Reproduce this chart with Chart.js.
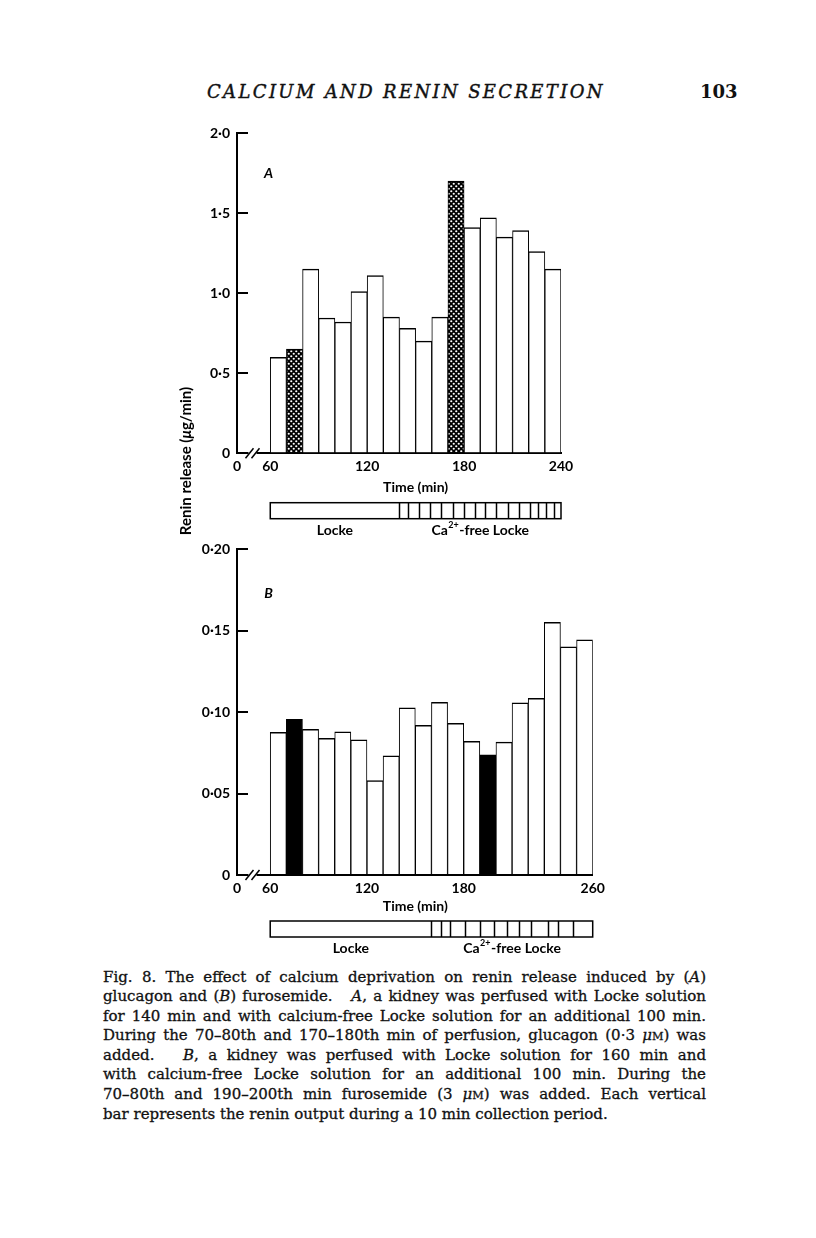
<!DOCTYPE html>
<html>
<head>
<meta charset="utf-8">
<script src="https://cdn.jsdelivr.net/npm/chart.js@4"></script>
<style>
  body { margin: 0; background: #fff; }
  #page { position: relative; width: 816px; height: 1238px; overflow: hidden; color: #111; }
  canvas { position: absolute; }
  #head { position: absolute; left: 207px; top: 81px; font: italic 18px "DejaVu Serif"; letter-spacing: 2.35px;
          white-space: nowrap; -webkit-text-stroke: 0.4px #111; }
  #pgno { position: absolute; left: 700px; top: 81px; font: bold 18px "DejaVu Serif"; }
  #ytitle { position: absolute; left: 85px; top: 452px; width: 200px; text-align: center;
            font: bold 15px Lato; transform: rotate(-90deg); color: #000; }
  #caption { position: absolute; left: 103px; top: 968px; width: 603px; font: 15px "DejaVu Serif";
             line-height: 19.3px; -webkit-text-stroke: 0.3px #111; }
  #caption div { text-align: justify; text-align-last: justify; white-space: nowrap; }
  #caption div.last { text-align-last: left; }
  .sc { font-size: 0.75em; }
</style>
</head>
<body>
<div id="page">
  <div id="head">CALCIUM AND RENIN SECRETION</div>
  <div id="pgno">103</div>
  <canvas id="chartA" width="440" height="430" style="left:150px;top:110px"></canvas>
  <canvas id="chartB" width="470" height="430" style="left:150px;top:530px"></canvas>
  <div id="ytitle">Renin release (<i>μ</i>g/min)</div>
  <div id="caption">
    <div>Fig. 8. The effect of calcium deprivation on renin release induced by (<i>A</i>)</div>
    <div>glucagon and (<i>B</i>) furosemide. &nbsp; <i>A</i>, a kidney was perfused with Locke solution</div>
    <div>for 140 min and with calcium-free Locke solution for an additional 100 min.</div>
    <div>During the 70–80th and 170–180th min of perfusion, glucagon (0·3 <i>μ</i><span class="sc">M</span>) was</div>
    <div>added. &nbsp; <i>B</i>, a kidney was perfused with Locke solution for 160 min and</div>
    <div>with calcium-free Locke solution for an additional 100 min. During the</div>
    <div>70–80th and 190–200th min furosemide (3 <i>μ</i><span class="sc">M</span>) was added. Each vertical</div>
    <div class="last">bar represents the renin output during a 10 min collection period.</div>
  </div>
</div>
<script>
// panel A: glucagon, 10 min collection periods (start minute of each)
const startA = [60, 70, 80, 90, 100, 110, 120, 130, 140, 150, 160, 170, 180, 190, 200, 210, 220, 230];
const reninA = [0.60, 0.65, 1.15, 0.845, 0.82, 1.01, 1.11, 0.85, 0.78, 0.70, 0.85, 1.70, 1.41, 1.47, 1.35, 1.39, 1.26, 1.15];
const glucagonA = [70, 170];
const xTicksA = [0, 60, 120, 180, 240];
const yTicksA = [0, 0.5, 1.0, 1.5, 2.0];
const lockeA = [60, 140];
const caFreeA = [140, 240];
const stripesA = [145, 152, 159, 166, 173, 180, 187, 193, 200, 207, 214, 221, 226, 231, 235.5];

// panel B: furosemide
const startB = [60, 70, 80, 90, 100, 110, 120, 130, 140, 150, 160, 170, 180, 190, 200, 210, 220, 230, 240, 250];
const reninB = [0.0875, 0.0955, 0.0893, 0.0838, 0.0879, 0.083, 0.058, 0.0731, 0.1025, 0.0918, 0.106, 0.093, 0.082, 0.0737, 0.0815, 0.1057, 0.1084, 0.155, 0.140, 0.1443];
const furosemideB = [70, 190];
const xTicksB = [0, 60, 120, 180, 260];
const yTicksB = [0, 0.05, 0.10, 0.15, 0.20];
const lockeB = [60, 160];
const caFreeB = [160, 260];
const stripesB = [166, 171.5, 180.5, 190, 198.5, 207, 214.5, 222, 232.5, 238.5, 248];

const X_MIN = 39.4; // left end of the broken time axis, labelled 0
const FONT = 'Lato';

function hatch() {
  const c = document.createElement('canvas');
  c.width = c.height = 5;
  const g = c.getContext('2d');
  g.fillStyle = '#000';
  g.fillRect(0, 0, 5, 5);
  g.fillStyle = '#fff';
  [[1.25, 1.25], [3.75, 3.75]].forEach(([px, py]) => {
    g.beginPath();
    g.arc(px, py, 1.1, 0, Math.PI * 2);
    g.fill();
  });
  return g.createPattern(c, 'repeat');
}

function drawCaLabel(ctx, cx, cy) {
  const big = 'bold 14px ' + FONT, small = 'bold 9px ' + FONT;
  ctx.font = big;
  const w1 = ctx.measureText('Ca').width, w3 = ctx.measureText('-free Locke').width;
  ctx.font = small;
  const w2 = ctx.measureText('2+').width + 1;
  let x = cx - (w1 + w2 + w3) / 2;
  ctx.textAlign = 'left';
  ctx.font = big;
  ctx.fillText('Ca', x, cy);
  ctx.font = small;
  ctx.fillText('2+', x + w1 + 0.5, cy - 5);
  ctx.font = big;
  ctx.fillText('-free Locke', x + w1 + w2, cy);
}

// break marks, time title, panel letter and the perfusion bar under each panel
function extras(p) {
  return {
    id: 'extras',
    afterDraw(chart) {
      const { ctx, chartArea: ca, scales: { x, y } } = chart;
      const by = ca.bottom;
      ctx.save();
      const bx = x.getPixelForValue(p.breakAt);
      ctx.fillStyle = '#fff';
      ctx.fillRect(bx - 4, by - 3, 8, 6);
      ctx.strokeStyle = '#000';
      ctx.lineWidth = 1.5;
      [-3, 3].forEach(d => {
        ctx.beginPath();
        ctx.moveTo(bx + d - 4, by + 5);
        ctx.lineTo(bx + d + 4, by - 5);
        ctx.stroke();
      });

      ctx.fillStyle = '#000';
      ctx.textAlign = 'center';
      ctx.textBaseline = 'middle';
      ctx.font = 'bold 14px ' + FONT;
      ctx.fillText('Time (min)', x.getPixelForValue(150), by + p.titleDy);

      ctx.font = 'italic bold 14px ' + FONT;
      ctx.fillText(p.letter, x.getPixelForValue(p.letterAt[0]), y.getPixelForValue(p.letterAt[1]));

      const x0 = x.getPixelForValue(p.locke[0]), x1 = x.getPixelForValue(p.caFree[1]);
      const top = by + p.barDy, h = 16;
      ctx.lineWidth = 1.5;
      ctx.strokeRect(x0, top, x1 - x0, h);
      [p.locke[1], ...p.stripes].forEach(m => {
        const sx = Math.round(x.getPixelForValue(m)) + 0.5;
        ctx.beginPath();
        ctx.moveTo(sx, top);
        ctx.lineTo(sx, top + h);
        ctx.stroke();
      });

      ctx.font = 'bold 14px ' + FONT;
      ctx.fillText('Locke', x.getPixelForValue((p.locke[0] + p.locke[1]) / 2), by + p.labelDy);
      drawCaLabel(ctx, x.getPixelForValue((p.caFree[0] + p.caFree[1]) / 2), by + p.labelDy);
      ctx.restore();
    }
  };
}

function makePanel(id, starts, values, treated, fill, xTicks, xMax, yTicks, digits, p) {
  const tickFont = { family: FONT, size: 14, weight: 'bold' };
  return new Chart(document.getElementById(id), {
    type: 'bar',
    data: {
      datasets: [{
        data: starts.map((s, i) => ({ x: s + 5, y: values[i] })),
        backgroundColor: starts.map(s => treated.includes(s) ? fill : '#fff'),
        borderColor: '#000',
        borderWidth: { top: 1.5, left: 1, right: 1, bottom: 0 },
        categoryPercentage: 1,
        barPercentage: 1
      }]
    },
    options: {
      responsive: false,
      animation: false,
      layout: { padding: p.pad },
      plugins: { legend: { display: false }, tooltip: { enabled: false } },
      scales: {
        x: {
          type: 'linear',
          min: X_MIN,
          max: xMax,
          offset: false,
          grid: { display: false, drawTicks: false },
          border: { display: true, color: '#000', width: 2 },
          afterBuildTicks: s => { s.ticks = xTicks.map(v => ({ value: v === 0 ? X_MIN : v })); },
          ticks: { color: '#000', font: tickFont, padding: 5, maxRotation: 0, autoSkip: false,
                   callback: (v, i) => String(xTicks[i]) },
          afterFit: s => { s.height = 45; s.paddingLeft = 0; s.paddingRight = 0; }
        },
        y: {
          min: 0,
          max: yTicks[yTicks.length - 1],
          grid: { display: true, drawOnChartArea: false, drawTicks: true, tickLength: -11, color: '#000', lineWidth: 2 },
          border: { display: true, color: '#000', width: 2 },
          afterBuildTicks: s => { s.ticks = yTicks.map(v => ({ value: v })); },
          ticks: { color: '#000', font: tickFont, padding: 18,
                   callback: v => v === 0 ? '0' : v.toFixed(digits).replace('.', '·') },
          afterFit: s => { s.width = 60; s.paddingTop = 0; s.paddingBottom = 0; }
        }
      }
    },
    plugins: [extras(p)]
  });
}

makePanel('chartA', startA, reninA, glucagonA, hatch(), xTicksA, 240, yTicksA, 1, {
  pad: { left: 27, right: 29, top: 23, bottom: 41.7 },
  breakAt: 49, titleDy: 34.4, letter: 'A', letterAt: [59, 1.75],
  locke: lockeA, caFree: caFreeA, stripes: stripesA, barDy: 49.4, labelDy: 76.7
});

makePanel('chartB', startB, reninB, furosemideB, '#000', xTicksB, 260, yTicksB, 2, {
  pad: { left: 27, right: 27.3, top: 19, bottom: 40 },
  breakAt: 49, titleDy: 31.7, letter: 'B', letterAt: [59, 0.173],
  locke: lockeB, caFree: caFreeB, stripes: stripesB, barDy: 46, labelDy: 73
});
</script>
</body>
</html>
